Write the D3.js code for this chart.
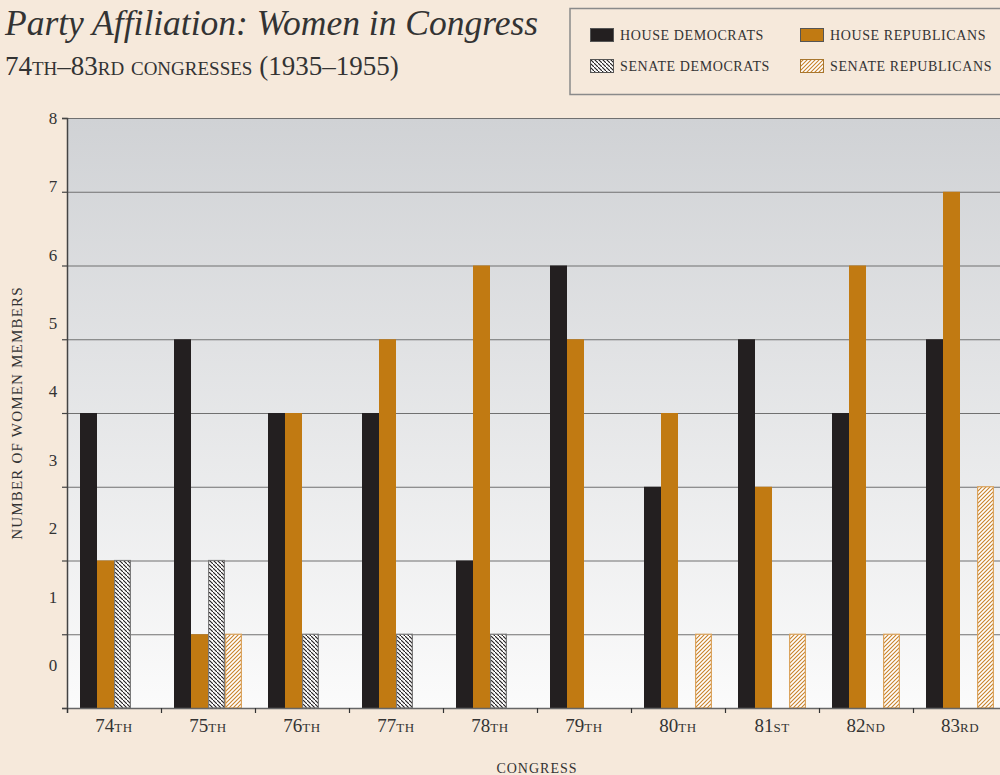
<!DOCTYPE html>
<html lang="en">
<head>
	<meta charset="utf-8">
	<title>Party Affiliation: Women in Congress</title>
	<script src="https://cdn.jsdelivr.net/npm/d3@7"></script>
	<style>
		body { margin: 0; background: #f6e9db; }
		svg { display: block; font-family: "Liberation Serif", "DejaVu Serif", serif; }
	</style>
</head>
<body>
<script>
	// Data
	var congresses = ["74", "75", "76", "77", "78", "79", "80", "81", "82", "83"];
	var suffixes = ["th", "th", "th", "th", "th", "th", "th", "st", "nd", "rd"];
	var houseDem = [4, 5, 4, 4, 2, 6, 3, 5, 4, 5];
	var houseRep = [2, 1, 4, 5, 6, 5, 4, 3, 6, 7];
	var senateDem = [2, 2, 1, 1, 1, 0, 0, 0, 0, 0];
	var senateRep = [0, 1, 0, 0, 0, 0, 1, 1, 1, 3];
	var yTicks = [0, 1, 2, 3, 4, 5, 6, 7, 8];

	var seriesKeys = ["hd", "hr", "sd", "sr"];
	var seriesNames = ["House Democrats", "House Republicans", "Senate Democrats", "Senate Republicans"];

	// Layout
	var width = 1000, height = 775;
	var margin = {top: 118, left: 67, bottom: 67};
	var plotBottom = height - margin.bottom;
	var plotRight = margin.left + 94 * congresses.length;

	var svg = d3.select("body").append("svg")
		.attr("width", width)
		.attr("height", height);

	var defs = svg.append("defs");

	// background gradient of the plot
	var grad = defs.append("linearGradient")
		.attr("id", "plotbg")
		.attr("x1", 0).attr("y1", 0).attr("x2", 0).attr("y2", 1);
	grad.append("stop").attr("offset", "0%").attr("stop-color", "#d0d2d5");
	grad.append("stop").attr("offset", "100%").attr("stop-color", "#fbfbfb");

	// hatch patterns
	var pd = defs.append("pattern")
		.attr("id", "hatchDem")
		.attr("patternUnits", "userSpaceOnUse")
		.attr("width", 4).attr("height", 4);
	pd.append("rect").attr("width", 4).attr("height", 4).attr("fill", "#ffffff");
	pd.append("path")
		.attr("d", "M-1,-1 l2,2 M0,0 l4,4 M3,3 l2,2")
		.attr("stroke", "#231f20").attr("stroke-width", 1.1);

	var pr = defs.append("pattern")
		.attr("id", "hatchRep")
		.attr("patternUnits", "userSpaceOnUse")
		.attr("width", 4).attr("height", 4);
	pr.append("rect").attr("width", 4).attr("height", 4).attr("fill", "#ffffff");
	pr.append("path")
		.attr("d", "M-1,1 l2,-2 M0,4 l4,-4 M3,5 l2,-2")
		.attr("stroke", "#c8822a").attr("stroke-width", 1.1);

	var fills = {hd: "#231f20", hr: "#c17a12", sd: "url(#hatchDem)", sr: "url(#hatchRep)"};
	var strokes = {hd: "none", hr: "none", sd: "#7a7a7a", sr: "#dba45e"};

	// Scales
	var x0 = d3.scaleBand()
		.domain(congresses)
		.range([margin.left, plotRight]);

	var x1 = d3.scaleBand()
		.domain(seriesKeys)
		.range([13, 81]);

	var y = d3.scaleLinear()
		.domain([0, 8])
		.range([plotBottom, margin.top]);

	// the printed labels sit on a slightly shorter scale than the gridlines
	var yLab = d3.scaleLinear()
		.domain([0, 8])
		.range([665, margin.top]);

	var xb = d3.scaleLinear()
		.domain([0, congresses.length])
		.range([margin.left, plotRight]);

	// Plot background
	svg.append("rect")
		.attr("x", margin.left)
		.attr("y", margin.top)
		.attr("width", plotRight - margin.left)
		.attr("height", plotBottom - margin.top)
		.attr("fill", "url(#plotbg)");

	// Gridlines
	var grid = svg.append("g")
		.attr("transform", "translate(" + margin.left + ",0)")
		.call(d3.axisRight(y).tickValues(yTicks).tickSize(plotRight - margin.left).tickFormat(""));
	grid.select(".domain").remove();
	grid.selectAll("line").attr("stroke", "#707070").attr("stroke-width", 1.2);

	// Bars
	var rows = congresses.map(function(c, i) {
		return {c: c, hd: houseDem[i], hr: houseRep[i], sd: senateDem[i], sr: senateRep[i]};
	});

	var groups = svg.selectAll(".grp")
		.data(rows)
		.enter().append("g")
		.attr("class", "grp")
		.attr("transform", function(d) { return "translate(" + x0(d.c) + ",0)"; });

	groups.selectAll("rect")
		.data(function(d) {
			return seriesKeys.map(function(k) { return {key: k, value: d[k]}; })
				.filter(function(e) { return e.value > 0; });
		})
		.enter().append("rect")
		.attr("x", function(d) {
			return strokes[d.key] == "none" ? x1(d.key) : x1(d.key) + 0.6;
		})
		.attr("y", function(d) { return y(d.value); })
		.attr("width", function(d) {
			return strokes[d.key] == "none" ? x1.bandwidth() : x1.bandwidth() - 1.2;
		})
		.attr("height", function(d) { return plotBottom - y(d.value); })
		.attr("fill", function(d) { return fills[d.key]; })
		.attr("stroke", function(d) { return strokes[d.key]; })
		.attr("stroke-width", 1.2);

	// Y axis: ticks and line
	var yAxis = svg.append("g")
		.attr("transform", "translate(" + margin.left + ",0)")
		.call(d3.axisLeft(y).tickValues(yTicks).tickSize(5).tickFormat(""));
	yAxis.select(".domain").attr("stroke", "#444").attr("stroke-width", 1.5);
	yAxis.selectAll("line").attr("stroke", "#444").attr("stroke-width", 1.2);

	// Y labels
	var yLabels = svg.append("g")
		.attr("transform", "translate(58,0)")
		.call(d3.axisLeft(yLab).tickValues(yTicks).tickSize(0).tickFormat(d3.format("d")));
	yLabels.select(".domain").remove();
	yLabels.selectAll("text")
		.attr("x", -5)
		.attr("text-anchor", "middle")
		.attr("font-family", "Liberation Serif, serif")
		.attr("font-size", 17)
		.attr("fill", "#333");

	// X axis: line and boundary ticks
	var xAxis = svg.append("g")
		.attr("transform", "translate(0," + plotBottom + ")")
		.call(d3.axisBottom(xb).ticks(congresses.length).tickSize(5).tickFormat(""));
	xAxis.select(".domain").attr("stroke", "#666").attr("stroke-width", 1.5);
	xAxis.selectAll("line").attr("stroke", "#333").attr("stroke-width", 1.2);

	// X labels
	var xLabels = svg.append("g")
		.selectAll("text")
		.data(congresses)
		.enter().append("text")
		.attr("x", function(d) { return x0(d) + x0.bandwidth() / 2; })
		.attr("y", 732)
		.attr("text-anchor", "middle")
		.attr("font-size", 19)
		.attr("fill", "#333");
	xLabels.append("tspan").text(function(d) { return d; });
	xLabels.append("tspan")
		.attr("font-variant", "small-caps")
		.attr("letter-spacing", 0.5)
		.text(function(d, i) { return suffixes[i]; });

	// Axis titles
	svg.append("text")
		.attr("x", (margin.left + plotRight) / 2)
		.attr("y", 773)
		.attr("text-anchor", "middle")
		.attr("font-size", 14)
		.attr("letter-spacing", 1)
		.attr("fill", "#333")
		.text("CONGRESS");

	svg.append("text")
		.attr("transform", "translate(22," + ((margin.top + plotBottom) / 2) + ") rotate(-90)")
		.attr("text-anchor", "middle")
		.attr("font-size", 15)
		.attr("letter-spacing", 1.2)
		.attr("fill", "#333")
		.text("NUMBER OF WOMEN MEMBERS");

	// Title
	svg.append("text")
		.attr("x", 5)
		.attr("y", 35)
		.attr("font-size", 35.5)
		.attr("font-style", "italic")
		.attr("fill", "#333")
		.text("Party Affiliation: Women in Congress");

	svg.append("text")
		.attr("x", 5)
		.attr("y", 75)
		.attr("font-size", 27)
		.attr("font-variant", "small-caps")
		.attr("fill", "#333")
		.text("74th\u201383rd congresses (1935\u20131955)");

	// Legend
	var legend = svg.append("g");
	legend.append("rect")
		.attr("x", 570)
		.attr("y", 8.5)
		.attr("width", 450)
		.attr("height", 86)
		.attr("fill", "none")
		.attr("stroke", "#8a8a8a")
		.attr("stroke-width", 1.5);

	var items = legend.selectAll(".item")
		.data(seriesKeys)
		.enter().append("g")
		.attr("class", "item")
		.attr("transform", function(d, i) {
			return "translate(" + (i % 2 == 0 ? 590 : 800) + "," + (i < 2 ? 28 : 59) + ")";
		});

	items.append("rect")
		.attr("x", 0.5).attr("y", 0.5)
		.attr("width", 23).attr("height", 13)
		.attr("fill", function(d) { return fills[d]; })
		.attr("stroke", function(d) { return d == "sr" ? "#a8762e" : "#555"; })
		.attr("stroke-width", 1);

	items.append("text")
		.attr("x", 30)
		.attr("y", 12)
		.attr("font-size", 14)
		.attr("letter-spacing", 0.6)
		.attr("fill", "#333")
		.text(function(d, i) { return seriesNames[i].toUpperCase(); });
</script>
</body>
</html>
